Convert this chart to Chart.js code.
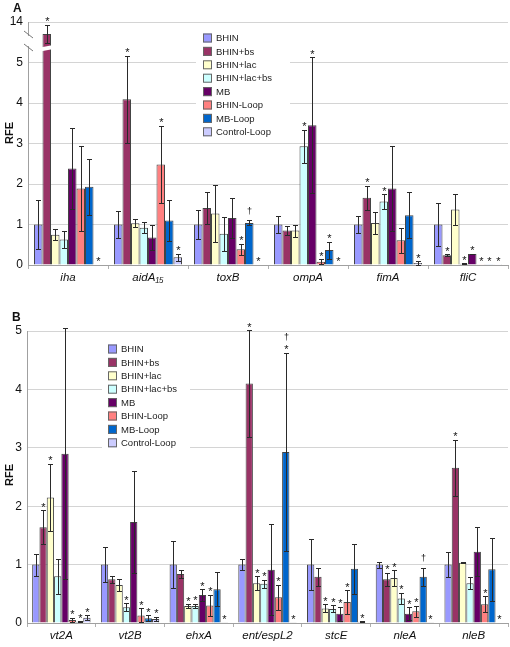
<!DOCTYPE html>
<html>
<head>
<meta charset="utf-8">
<script src="https://cdn.jsdelivr.net/npm/chart.js@4.4.0/dist/chart.umd.min.js"></script>
<style>
body { margin: 0; background: #fff; }
#wrap { position: relative; width: 510px; height: 647px; font-family: "Liberation Sans", Arial, sans-serif; }
canvas { position: absolute; left: 0; }
#chartA { top: 0; }
#chartB { top: 290px; }
.tag { position: absolute; font-weight: bold; font-size: 12px; color: #111; }
</style>
</head>
<body>
<div id="wrap">
    <canvas id="chartA" width="510" height="290"></canvas>
    <canvas id="chartB" width="510" height="357"></canvas>
    <div class="tag" style="left:13px;top:1px">A</div>
    <div class="tag" style="left:12px;top:310px">B</div>
</div>
<script>
// Series (same in both panels)
const series = ['BHIN', 'BHIN+bs', 'BHIN+lac', 'BHIN+lac+bs', 'MB', 'BHIN-Loop', 'MB-Loop', 'Control-Loop'];
const colors = ['#9999ff', '#993366', '#ffffcc', '#ccffff', '#660066', '#ff8080', '#0066cc', '#ccccff'];

// Panel A - one array per gene, values in series order
const genesA = ['iha', 'aidA₁₅', 'toxB', 'ompA', 'fimA', 'fliC'];
const ticksA = ['0', '1', '2', '3', '4', '5', '14'];

const iha      = [1.00, 13.35, 0.75, 0.63, 2.38, 1.89, 1.93, 0.01];
const ihaSd    = [0.60, 0.50, 0.13, 0.22, 1.00, 1.04, 0.69, 0];
const ihaSig   = ['', '*', '', '', '', '', '', '*'];

const aidA     = [1.00, 4.09, 1.03, 0.92, 0.68, 2.48, 1.10, 0.19];
const aidASd   = [0.33, 1.07, 0.10, 0.13, 0.30, 0.96, 0.50, 0.08];
const aidASig  = ['', '*', '', '', '', '*', '', '*'];

const toxB     = [1.00, 1.41, 1.27, 0.77, 1.16, 0.39, 1.04, 0.01];
const toxBSd   = [0.35, 0.39, 0.70, 0.42, 0.50, 0.14, 0.06, 0];
const toxBSig  = ['', '', '', '', '', '*', '†', '*'];

const ompA     = [1.00, 0.85, 0.85, 2.93, 3.45, 0.08, 0.37, 0.01];
const ompASd   = [0.20, 0.12, 0.15, 0.41, 1.68, 0.06, 0.21, 0];
const ompASig  = ['', '', '', '*', '*', '*', '*', '*'];

const fimA     = [1.00, 1.66, 1.04, 1.57, 1.89, 0.61, 1.23, 0.05];
const fimASd   = [0.20, 0.30, 0.28, 0.18, 1.05, 0.31, 0.57, 0.04];
const fimASig  = ['', '*', '', '*', '', '', '', '*'];

const fliC     = [1.00, 0.24, 1.37, 0.03, 0.27, 0.005, 0.005, 0.005];
const fliCSd   = [0.54, 0.02, 0.39, 0.01, 0.01, 0, 0, 0];
const fliCSig  = ['', '*', '', '*', '*', '*', '*', '*'];

// Panel B
const genesB = ['vt2A', 'vt2B', 'ehxA', 'ent/espL2', 'stcE', 'nleA', 'nleB'];
const ticksB = ['0', '1', '2', '3', '4', '5'];

const vt2A     = [1.00, 1.64, 2.15, 0.80, 2.90, 0.05, 0.02, 0.09];
const vt2ASd   = [0.19, 0.29, 0.58, 0.30, 2.15, 0.04, 0.01, 0.04];
const vt2ASig  = ['', '*', '*', '', '', '*', '*', '*'];

const vt2B     = [1.00, 0.75, 0.65, 0.27, 1.73, 0.13, 0.08, 0.07];
const vt2BSd   = [0.30, 0.06, 0.10, 0.07, 0.87, 0.12, 0.05, 0.04];
const vt2BSig  = ['', '', '', '*', '', '*', '*', '*'];

const ehxA     = [1.00, 0.84, 0.29, 0.29, 0.48, 0.30, 0.58, 0.005];
const ehxASd   = [0.40, 0.07, 0.03, 0.04, 0.10, 0.18, 0.29, 0];
const ehxASig  = ['', '', '*', '*', '*', '*', '', '*'];

const ent      = [1.00, 4.10, 0.68, 0.67, 0.91, 0.44, 2.93, 0.005];
const entSd    = [0.09, 0.91, 0.12, 0.07, 0.78, 0.21, 1.70, 0];
const entSig   = ['', '*', '*', '*', '', '*', '†*', '*'];

const stcE     = [1.00, 0.79, 0.25, 0.24, 0.16, 0.36, 0.93, 0.02];
const stcESd   = [0.43, 0.15, 0.07, 0.06, 0.12, 0.20, 0.43, 0.01];
const stcESig  = ['', '', '*', '*', '*', '*', '', '*'];

const nleA     = [1.00, 0.75, 0.77, 0.42, 0.16, 0.20, 0.79, 0.005];
const nleASd   = [0.05, 0.11, 0.13, 0.10, 0.11, 0.09, 0.16, 0];
const nleASig  = ['', '*', '*', '*', '*', '*', '†', '*'];

const nleB     = [1.00, 2.66, 1.03, 0.68, 1.22, 0.32, 0.92, 0.01];
const nleBSd   = [0.22, 0.48, 0.01, 0.10, 0.42, 0.14, 0.54, 0];
const nleBSig  = ['', '*', '', '', '', '*', '', '*'];

const rowsA = [[iha, ihaSd, ihaSig], [aidA, aidASd, aidASig], [toxB, toxBSd, toxBSig],
               [ompA, ompASd, ompASig], [fimA, fimASd, fimASig], [fliC, fliCSd, fliCSig]];
const rowsB = [[vt2A, vt2ASd, vt2ASig], [vt2B, vt2BSd, vt2BSig], [ehxA, ehxASd, ehxASig],
               [ent, entSd, entSig], [stcE, stcESd, stcESig], [nleA, nleASd, nleASig],
               [nleB, nleBSd, nleBSig]];

// axis A is broken between 5 and 14: everything above the break is squeezed into the top unit
const brk = v => v > 5.5 ? 6 - (14 - v) * 0.46 : v;
const same = v => v;

const FONT = '"Liberation Sans", Arial, sans-serif';

// error bars + significance marks
const errBars = {
    id: 'errBars',
    afterDatasetsDraw(chart, args, opts) {
        const ctx = chart.ctx;
        const y = chart.scales.y;
        ctx.save();
        chart.data.datasets.forEach((ds, s) => {
            chart.getDatasetMeta(s).data.forEach((bar, g) => {
                const [vals, sds, sig] = opts.rows[g];
                const v = vals[s], e = sds[s];
                const x = Math.round(bar.x) + 0.5;
                const top = y.getPixelForValue(opts.map(v + e));
                if (e > 0) {
                    const bot = y.getPixelForValue(opts.map(Math.max(v - e, 0)));
                    ctx.strokeStyle = '#2a2a2a';
                    ctx.lineWidth = 1;
                    ctx.beginPath();
                    ctx.moveTo(x, Math.round(top) + 0.5);
                    ctx.lineTo(x, Math.round(bot) + 0.5);
                    ctx.moveTo(x - 2.5, Math.round(top) + 0.5);
                    ctx.lineTo(x + 2.5, Math.round(top) + 0.5);
                    ctx.moveTo(x - 2.5, Math.round(bot) + 0.5);
                    ctx.lineTo(x + 2.5, Math.round(bot) + 0.5);
                    ctx.stroke();
                }
                const mark = sig[s];
                if (!mark) return;
                ctx.fillStyle = '#111';
                ctx.textAlign = 'center';
                ctx.textBaseline = 'alphabetic';
                let c = top - 6;
                if (mark.includes('*')) {
                    ctx.font = '11px ' + FONT;
                    ctx.fillText('*', x, c + 6.4);
                    c -= 9;
                } else {
                    c -= 3.5;
                }
                if (mark.includes('†')) {
                    ctx.font = '9px ' + FONT;
                    ctx.fillText('†', x, c + 2.6);
                }
            });
        });
        ctx.restore();
    }
};

// legend box inside the plot
const boxLegend = {
    id: 'boxLegend',
    afterDraw(chart, args, o) {
        const ctx = chart.ctx;
        ctx.save();
        ctx.fillStyle = '#fff';
        ctx.fillRect(o.x, o.y, o.w, o.h);
        ctx.font = '9.5px ' + FONT;
        ctx.textBaseline = 'middle';
        ctx.textAlign = 'left';
        series.forEach((name, i) => {
            const cy = o.first + i * o.step;
            ctx.fillStyle = colors[i];
            ctx.fillRect(o.sx, cy - 4.5, 9, 9);
            ctx.strokeStyle = '#666';
            ctx.lineWidth = 1;
            ctx.strokeRect(o.sx + 0.5, cy - 4.5 + 0.5, 8, 8);
            ctx.fillStyle = '#222';
            ctx.fillText(name, o.tx, cy + 0.5);
        });
        ctx.restore();
    }
};

// rotated y title
const sideTitle = {
    id: 'sideTitle',
    afterDraw(chart, args, o) {
        const ctx = chart.ctx;
        ctx.save();
        ctx.translate(o.x, o.y);
        ctx.rotate(-Math.PI / 2);
        ctx.font = 'bold 11px ' + FONT;
        ctx.fillStyle = '#111';
        ctx.textAlign = 'center';
        ctx.textBaseline = 'middle';
        ctx.fillText('RFE', 0, 0);
        ctx.restore();
    }
};

// break marks for panel A (axis and the tall iha bar)
const axisBreak = {
    id: 'axisBreak',
    afterDatasetsDraw(chart, args, o) {
        if (!o.on) return;
        const ctx = chart.ctx;
        const y = chart.scales.y;
        const bar = chart.getDatasetMeta(1).data[0];
        const py = y.getPixelForValue(5.35);
        const l = bar.x - bar.width / 2 - 1, r = bar.x + bar.width / 2 + 1;
        ctx.save();
        ctx.fillStyle = '#fff';
        ctx.beginPath();
        ctx.moveTo(l, py - 1);
        ctx.lineTo(r, py - 3);
        ctx.lineTo(r, py + 1);
        ctx.lineTo(l, py + 3);
        ctx.closePath();
        ctx.fill();
        const ax = chart.chartArea.left;
        ctx.fillRect(ax - 2, 36, 4, 10);
        ctx.strokeStyle = '#777';
        ctx.lineWidth = 1;
        ctx.beginPath();
        ctx.moveTo(ax - 4, 31); ctx.lineTo(ax + 5, 38);
        ctx.moveTo(ax - 4, 44); ctx.lineTo(ax + 5, 51);
        ctx.stroke();
        ctx.restore();
    }
};

function makeChart(id, genes, rows, map, tickLabels, yMax, pad, xH, yW, legend, title) {
    const datasets = series.map((name, s) => ({
        label: name,
        data: rows.map(r => map(r[0][s])),
        backgroundColor: colors[s],
        borderColor: '#444',
        borderWidth: 1,
        categoryPercentage: 0.85,
        barPercentage: 1.0
    }));
    return new Chart(document.getElementById(id), {
        type: 'bar',
        data: { labels: genes, datasets },
        plugins: [axisBreak, errBars, boxLegend, sideTitle],
        options: {
            responsive: false,
            animation: false,
            layout: { padding: { top: pad, right: 2, left: 0, bottom: 0 } },
            plugins: {
                legend: { display: false },
                tooltip: { enabled: false },
                errBars: { rows, map },
                boxLegend: legend,
                sideTitle: title,
                axisBreak: { on: map === brk }
            },
            scales: {
                x: {
                    afterFit: s => { s.height = xH; },
                    grid: { offset: true, drawOnChartArea: false, tickLength: 4, color: '#b0b0b0' },
                    border: { color: '#a0a0a0' },
                    ticks: { padding: 2, color: '#111', font: { family: FONT, size: 11.5, style: 'italic' } }
                },
                y: {
                    min: 0,
                    max: yMax,
                    afterFit: s => { s.width = yW; },
                    grid: { drawTicks: false, color: '#d4d4d4' },
                    border: { color: '#a0a0a0' },
                    ticks: {
                        stepSize: 1,
                        padding: 5,
                        color: '#111',
                        font: { family: FONT, size: 12 },
                        callback: v => tickLabels[v]
                    }
                }
            }
        }
    });
}

makeChart('chartA', genesA, rowsA, brk, ticksA, 6, 22, 25, 28,
    { x: 196, y: 27, w: 94, h: 113, sx: 203, tx: 216, first: 38, step: 13.4 },
    { x: 10, y: 133 });

makeChart('chartB', genesB, rowsB, same, ticksB, 5, 41, 24, 27,
    { x: 102, y: 49, w: 88, h: 116, sx: 108, tx: 121, first: 59, step: 13.4 },
    { x: 10, y: 185 });
</script>
</body>
</html>
